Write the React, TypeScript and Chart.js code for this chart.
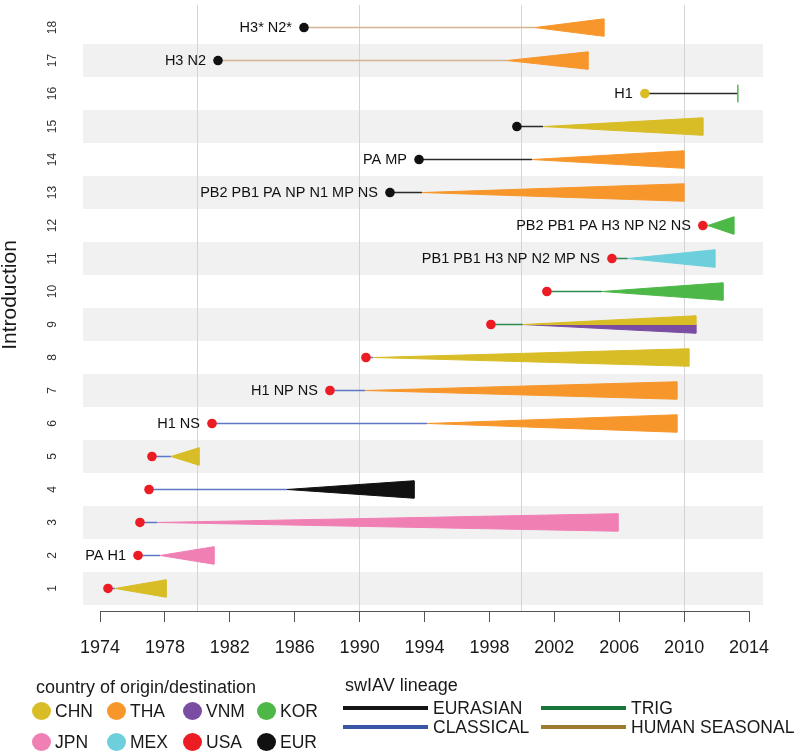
import React, { useEffect, useRef } from 'react';
import { Chart, registerables } from 'chart.js';

Chart.register(...registerables);

const FONT = '"Liberation Sans", Arial, Helvetica, sans-serif';

// ---------- data ----------
const ROWS = [1, 2, 3, 4, 5, 6, 7, 8, 9, 10, 11, 12, 13, 14, 15, 16, 17, 18];
const SEGMENT_LABELS = ['', 'PA H1', '', '', '', 'H1 NS', 'H1 NP NS', '', '', '', 'PB1 PB1 H3 NP N2 MP NS', 'PB2 PB1 PA H3 NP N2 NS', 'PB2 PB1 PA NP N1 MP NS', 'PA MP', '', 'H1', 'H3 N2', 'H3* N2*'];
const ORIGIN_YEAR = [1974.49, 1976.34, 1976.46, 1977.02, 1977.2, 1980.9, 1988.17, 1990.39, 1998.09, 2001.54, 2005.55, 2011.15, 1991.87, 1993.66, 1999.69, 2007.58, 1981.27, 1986.57];
const SPREAD_START = [1974.92, 1977.7, 1977.51, 1985.52, 1978.37, 1994.15, 1990.33, 1990.82, 2000.06, 2004.93, 2006.53, 2011.46, 1993.84, 2000.62, 2001.3, 2013.31, 1999.08, 2000.8];
const SPREAD_END = [1978.07, 1981.02, 2005.92, 1993.35, 1980.1, 2009.55, 2009.55, 2010.29, 2010.72, 2012.39, 2011.89, 2013.06, 2009.98, 2009.98, 2011.15, 2013.31, 2004.07, 2005.05];
const ORIGIN = ['USA', 'USA', 'USA', 'USA', 'USA', 'USA', 'USA', 'USA', 'USA', 'USA', 'USA', 'USA', 'EUR', 'EUR', 'EUR', 'CHN', 'EUR', 'EUR'];
const LINEAGE = ['CLASSICAL', 'CLASSICAL', 'CLASSICAL', 'CLASSICAL', 'CLASSICAL', 'CLASSICAL', 'CLASSICAL', 'CLASSICAL', 'TRIG', 'TRIG', 'TRIG', 'TRIG', 'EURASIAN', 'EURASIAN', 'EURASIAN', 'EURASIAN', 'HUMAN SEASONAL', 'HUMAN SEASONAL'];
const DESTINATION = ['CHN', 'JPN', 'JPN', 'EUR', 'CHN', 'THA', 'THA', 'CHN', 'CHN+VNM', 'KOR', 'MEX', 'KOR', 'THA', 'THA', 'CHN', 'KOR', 'THA', 'THA'];

const X_TICK_YEARS = [1974, 1978, 1982, 1986, 1990, 1994, 1998, 2002, 2006, 2010, 2014];
const GRID_YEARS = [1980, 1990, 2000, 2010];

const COUNTRY_NAMES = ['CHN', 'THA', 'VNM', 'KOR', 'JPN', 'MEX', 'USA', 'EUR'];
const LINEAGE_NAMES = ['EURASIAN', 'CLASSICAL', 'TRIG', 'HUMAN SEASONAL'];
const Y_TITLE = 'Introduction';

// ---------- styles ----------
const COUNTRY_COLORS: Record<string, string> = {
  CHN: '#d8bd27', THA: '#f7972b', VNM: '#7a4da3', KOR: '#4db848',
  JPN: '#f07fb4', MEX: '#6ccfdb', USA: '#ec1c24', EUR: '#111111',
};
const LINEAGE_COLORS: Record<string, string> = {
  EURASIAN: '#141414', CLASSICAL: '#3855a6', TRIG: '#17773a', 'HUMAN SEASONAL': '#9e7a2e',
};
const LINEAGE_LINE_COLORS: Record<string, string> = {
  EURASIAN: '#2a2a2a', CLASSICAL: '#5f77c6', TRIG: '#2f8a52', 'HUMAN SEASONAL': '#d3b592',
};
const HALF = 0.265;
const X_MIN = 1972.95;
const X_MAX = 2014.86;
const Y_MIN = 0.317;
const Y_MAX = 18.69;

const overlayPlugin = {
  id: 'overlay',
  beforeDraw(chart: any) {
    const { ctx, chartArea, scales } = chart;
    const y = scales.y;
    ctx.save();
    ctx.fillStyle = '#f1f1f1';
    ROWS.forEach((r) => {
      if (r % 2 === 1) {
        const t = y.getPixelForValue(r + 0.5);
        const b = y.getPixelForValue(r - 0.5);
        ctx.fillRect(chartArea.left, t, chartArea.right - chartArea.left, b - t);
      }
    });
    ctx.restore();
  },
  afterDatasetsDraw(chart: any) {
    const { ctx, scales } = chart;
    const { x, y } = scales;
    ctx.save();
    ctx.font = `14.5px ${FONT}`;
    ctx.fillStyle = '#111';
    ctx.textAlign = 'right';
    ctx.textBaseline = 'middle';
    ROWS.forEach((r, i) => {
      const t = SEGMENT_LABELS[i];
      if (!t) return;
      ctx.fillText(t, x.getPixelForValue(ORIGIN_YEAR[i]) - 12, y.getPixelForValue(r) + 0.5);
    });
    ctx.restore();
  },
  afterDraw(chart: any) {
    const { ctx, chartArea, scales } = chart;
    const x = scales.x;
    const yy = Math.round(chartArea.bottom) + 0.5;
    ctx.save();
    ctx.strokeStyle = '#555';
    ctx.lineWidth = 1;
    ctx.beginPath();
    ctx.moveTo(x.getPixelForValue(X_TICK_YEARS[0]), yy);
    ctx.lineTo(x.getPixelForValue(X_TICK_YEARS[X_TICK_YEARS.length - 1]), yy);
    ctx.stroke();
    // y axis title
    ctx.translate(10, 295);
    ctx.rotate(-Math.PI / 2);
    ctx.font = `21px ${FONT}`;
    ctx.fillStyle = '#1a1a1a';
    ctx.textAlign = 'center';
    ctx.textBaseline = 'middle';
    ctx.fillText(Y_TITLE, 0, 0);
    ctx.restore();
  },
};

function buildDatasets() {
  const ds: any[] = [];
  ds.push({
    label: 'origin',
    data: ROWS.map((r, i) => ({ x: ORIGIN_YEAR[i], y: r })),
    showLine: false,
    pointRadius: 4.8,
    pointHoverRadius: 4.8,
    pointBorderWidth: 0,
    pointBackgroundColor: ORIGIN.map((o) => COUNTRY_COLORS[o]),
    pointBorderColor: ORIGIN.map((o) => COUNTRY_COLORS[o]),
    order: 0,
  });
  ROWS.forEach((r, i) => {
    const s = SPREAD_START[i];
    const e = SPREAD_END[i];
    const dests = DESTINATION[i].split('+');
    const polys =
      dests.length === 1
        ? [[{ x: s, y: r }, { x: e, y: r + HALF }, { x: e, y: r - HALF }, { x: s, y: r }]]
        : [
            [{ x: s, y: r }, { x: e, y: r + HALF }, { x: e, y: r }, { x: s, y: r }],
            [{ x: s, y: r }, { x: e, y: r }, { x: e, y: r - HALF }, { x: s, y: r }],
          ];
    polys.forEach((p, k) => {
      const c = COUNTRY_COLORS[dests[k]];
      ds.push({
        label: 'spread ' + r + ' ' + dests[k],
        data: p,
        borderColor: c,
        backgroundColor: c,
        borderWidth: 1,
        borderJoinStyle: 'bevel',
        fill: 'shape',
        pointRadius: 0,
        tension: 0,
        order: 1,
      });
    });
    ds.push({
      label: 'lineage ' + r,
      data: [{ x: ORIGIN_YEAR[i], y: r }, { x: s, y: r }],
      borderColor: LINEAGE_LINE_COLORS[LINEAGE[i]],
      borderWidth: 1.4,
      pointRadius: 0,
      fill: false,
      tension: 0,
      order: 2,
    });
  });
  return ds;
}

function Txt(props: { x: number; y: number; children: React.ReactNode; size?: number }) {
  return (
    <div
      style={{
        position: 'absolute',
        left: props.x,
        top: props.y,
        transform: 'translateY(-50%)',
        font: `${props.size || 17.5}px ${FONT}`,
        color: '#1a1a1a',
        whiteSpace: 'nowrap',
        lineHeight: '20px',
      }}
    >
      {props.children}
    </div>
  );
}

export default function App() {
  const ref = useRef<HTMLCanvasElement>(null);
  useEffect(() => {
    const canvas = ref.current!;
    const allTicks = Array.from(new Set([...X_TICK_YEARS, ...GRID_YEARS])).sort((a, b) => a - b);
    const chart = new Chart(canvas, {
      type: 'line',
      data: { datasets: buildDatasets() },
      plugins: [overlayPlugin],
      options: {
        animation: false,
        responsive: false,
        maintainAspectRatio: false,
        events: [],
        layout: { padding: { top: 0, right: 37, left: 0, bottom: 0 } },
        plugins: { legend: { display: false }, tooltip: { enabled: false } },
        scales: {
          x: {
            type: 'linear',
            min: X_MIN,
            max: X_MAX,
            afterBuildTicks: (s: any) => {
              s.ticks = allTicks.map((v) => ({ value: v }));
            },
            afterFit: (s: any) => {
              s.height = 141;
            },
            ticks: {
              autoSkip: false,
              maxRotation: 0,
              minRotation: 0,
              padding: 15,
              color: '#1a1a1a',
              font: { size: 18, family: FONT },
              callback: (v: any) => (X_TICK_YEARS.includes(Number(v)) ? String(v) : ''),
            },
            grid: {
              drawOnChartArea: true,
              drawTicks: true,
              tickLength: 11,
              lineWidth: 1,
              color: (c: any) => (c.tick && GRID_YEARS.includes(c.tick.value) ? '#d4d4d4' : 'rgba(0,0,0,0)'),
              tickColor: (c: any) => (c.tick && X_TICK_YEARS.includes(c.tick.value) ? '#555' : 'rgba(0,0,0,0)'),
            },
            border: { display: false },
          },
          y: {
            type: 'linear',
            min: Y_MIN,
            max: Y_MAX,
            afterBuildTicks: (s: any) => {
              s.ticks = ROWS.map((v) => ({ value: v }));
            },
            afterFit: (s: any) => {
              s.width = 83;
              s.paddingTop = 0;
              s.paddingBottom = 0;
            },
            ticks: {
              autoSkip: false,
              minRotation: 90,
              maxRotation: 90,
              crossAlign: 'center',
              padding: 16,
              color: '#333',
              font: { size: 12, family: FONT },
            },
            grid: { display: false },
            border: { display: false },
          },
        },
      } as any,
    });
    return () => chart.destroy();
  }, []);

  const colX = [41, 116, 192, 266];
  const rowY = [711, 742];
  const linX = [343, 541];
  const linY = [708, 727];

  return (
    <div style={{ position: 'fixed', left: 0, top: 0, width: 800, height: 752, overflow: 'hidden', background: '#fff' }}>
      <canvas ref={ref} width={800} height={752} style={{ position: 'absolute', left: 0, top: 0, width: 800, height: 752 }} />
      <Txt x={36} y={687} size={18}>country of origin/destination</Txt>
      {COUNTRY_NAMES.map((n, i) => {
        const cx = colX[i % 4];
        const cy = rowY[Math.floor(i / 4)];
        return (
          <React.Fragment key={n}>
            <div
              style={{
                position: 'absolute',
                left: cx - 9.5,
                top: cy - 9,
                width: 19,
                height: 18,
                borderRadius: '50%',
                background: COUNTRY_COLORS[n],
              }}
            />
            <Txt x={cx + 14} y={cy}>{n}</Txt>
          </React.Fragment>
        );
      })}
      <Txt x={345} y={685} size={18}>swIAV lineage</Txt>
      {LINEAGE_NAMES.map((n, i) => {
        const lx = linX[Math.floor(i / 2)];
        const ly = linY[i % 2];
        return (
          <React.Fragment key={n}>
            <div
              style={{
                position: 'absolute',
                left: lx,
                top: ly - 2,
                width: 85,
                height: 4,
                background: LINEAGE_COLORS[n],
              }}
            />
            <Txt x={lx + 90} y={ly}>{n}</Txt>
          </React.Fragment>
        );
      })}
    </div>
  );
}
